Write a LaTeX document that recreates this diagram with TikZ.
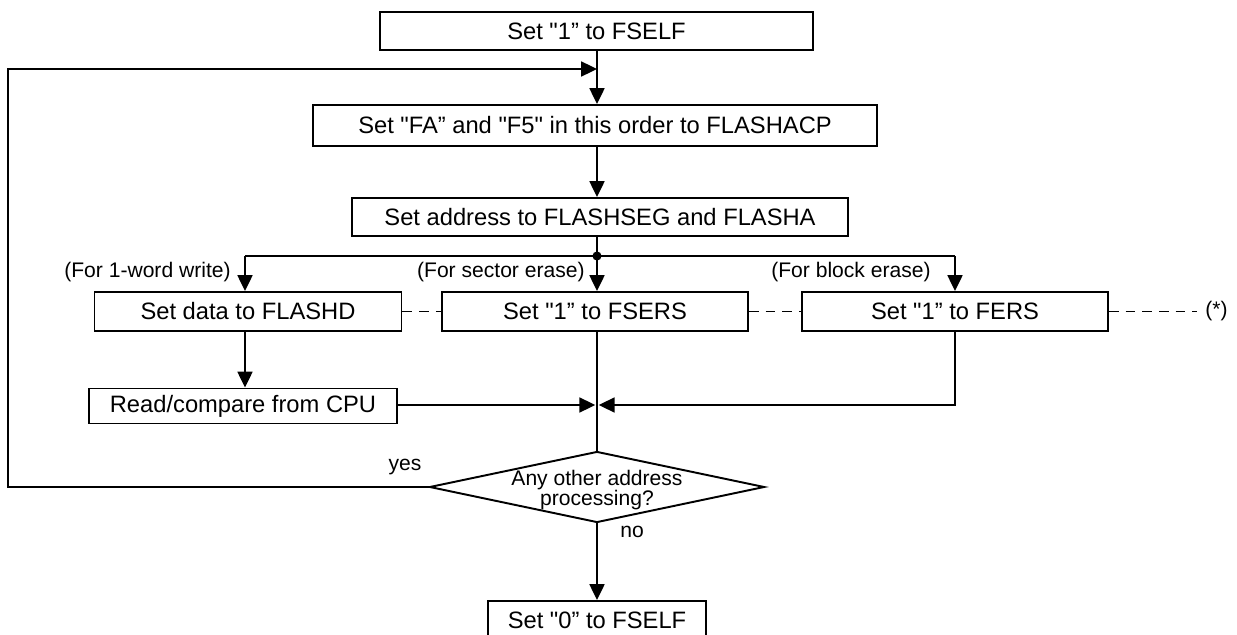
\documentclass[tikz,border=0pt]{standalone}
\usepackage{fontspec}
\setmainfont{Liberation Sans}[Ligatures=TeXOff]
\usetikzlibrary{arrows.meta,shapes.geometric}
\begin{document}
\begin{tikzpicture}[x=0.02cm,y=-0.02cm,
  box/.style={draw,line width=1.1pt,rectangle,inner sep=0pt,font=\fontsize{13.5}{16}\selectfont},
  lbl/.style={inner sep=0pt,font=\fontsize{12}{14}\selectfont},
  ln/.style={line width=1.1pt},
  arr/.style={line width=1.1pt,-{Triangle[length=9pt,width=8.5pt]}},
  dsh/.style={line width=1.1pt,dash pattern=on 5.5pt off 4pt}]
\useasboundingbox (0,0) rectangle (1237,635);
% boxes
\node[box,minimum width=8.66cm,minimum height=0.76cm] (b1) at (596.5,31) {Set "1” to FSELF};
\node[box,minimum width=11.28cm,minimum height=0.82cm] (b2) at (595,125.5) {Set "FA” and "F5" in this order to FLASHACP};
\node[box,minimum width=9.92cm,minimum height=0.76cm] (b3) at (600,217) {Set address to FLASHSEG and FLASHA};
\node[box,minimum width=6.14cm,minimum height=0.78cm] (fd) at (248,311.5) {Set data to FLASHD};
\node[box,minimum width=6.12cm,minimum height=0.78cm] (fs) at (595,311.5) {Set "1” to FSERS};
\node[box,minimum width=6.12cm,minimum height=0.78cm] (fe) at (955,311.5) {Set "1” to FERS};
\node[box,minimum width=6.16cm,minimum height=0.70cm] (rd) at (243,406) {Read/compare from CPU};
\node[draw,line width=1.1pt,diamond,inner sep=0pt,minimum width=6.7cm,minimum height=1.42cm] (dia) at (597,487) {};
\node[lbl,align=center,font=\fontsize{12}{11.3}\selectfont] (diat) at (597,490) {Any other address\\processing?};
\node[box,minimum width=4.36cm,minimum height=0.78cm] (b4) at (597,620.5) {Set "0” to FSELF};
% labels
\node[lbl,anchor=east] (l1) at (231,272) {(For 1-word write)};
\node[lbl,anchor=east] (l2) at (585,272) {(For sector erase)};
\node[lbl,anchor=east] (l3) at (931,272) {(For block erase)};
\node[lbl,anchor=west] (star) at (1205,311.5) {(*)};
\node[lbl] (yes) at (405,467) {yes};
\node[lbl] (no) at (632,532) {no};
% coordinates
\coordinate (j1) at (597,69);
\coordinate (lp) at (8,69);
\coordinate (dot) at (597,256);
\coordinate (bl) at (245,256);
\coordinate (br) at (955,256);
\coordinate (jn) at (597,405);
\coordinate (de) at (1197,311.5);
% flow
\draw[ln] (b1.south -| j1) -- (j1);
\draw[arr] (j1) -- (b2.north -| j1);
\draw[arr] (dia.west) -- (dia.west -| lp) -- (lp) -- (j1);
\draw[arr] (b2.south -| j1) -- (b3.north -| j1);
\draw[ln] (b3.south -| dot) -- (dot);
\fill (dot) circle (2.6pt);
\draw[ln] (bl) -- (br);
\draw[arr] (bl) -- (fd.north -| bl);
\draw[arr] (dot) -- (fs.north -| dot);
\draw[arr] (br) -- (fe.north -| br);
\draw[arr] (fd.south -| bl) -- (rd.north -| bl);
\draw[arr] (rd.east |- jn) -- ([xshift=-1]jn);
\draw[arr] (fe.south -| br) -- (br |- jn) -- ([xshift=1]jn);
\draw[ln] (fs.south -| jn) -- (dia.north);
\draw[arr] (dia.south) -- (b4.north);
% dashed
\draw[dsh] (fd.east) -- (fs.west);
\draw[dsh] (fs.east) -- (fe.west);
\draw[dsh] (fe.east) -- (de);
\end{tikzpicture}
\end{document}
